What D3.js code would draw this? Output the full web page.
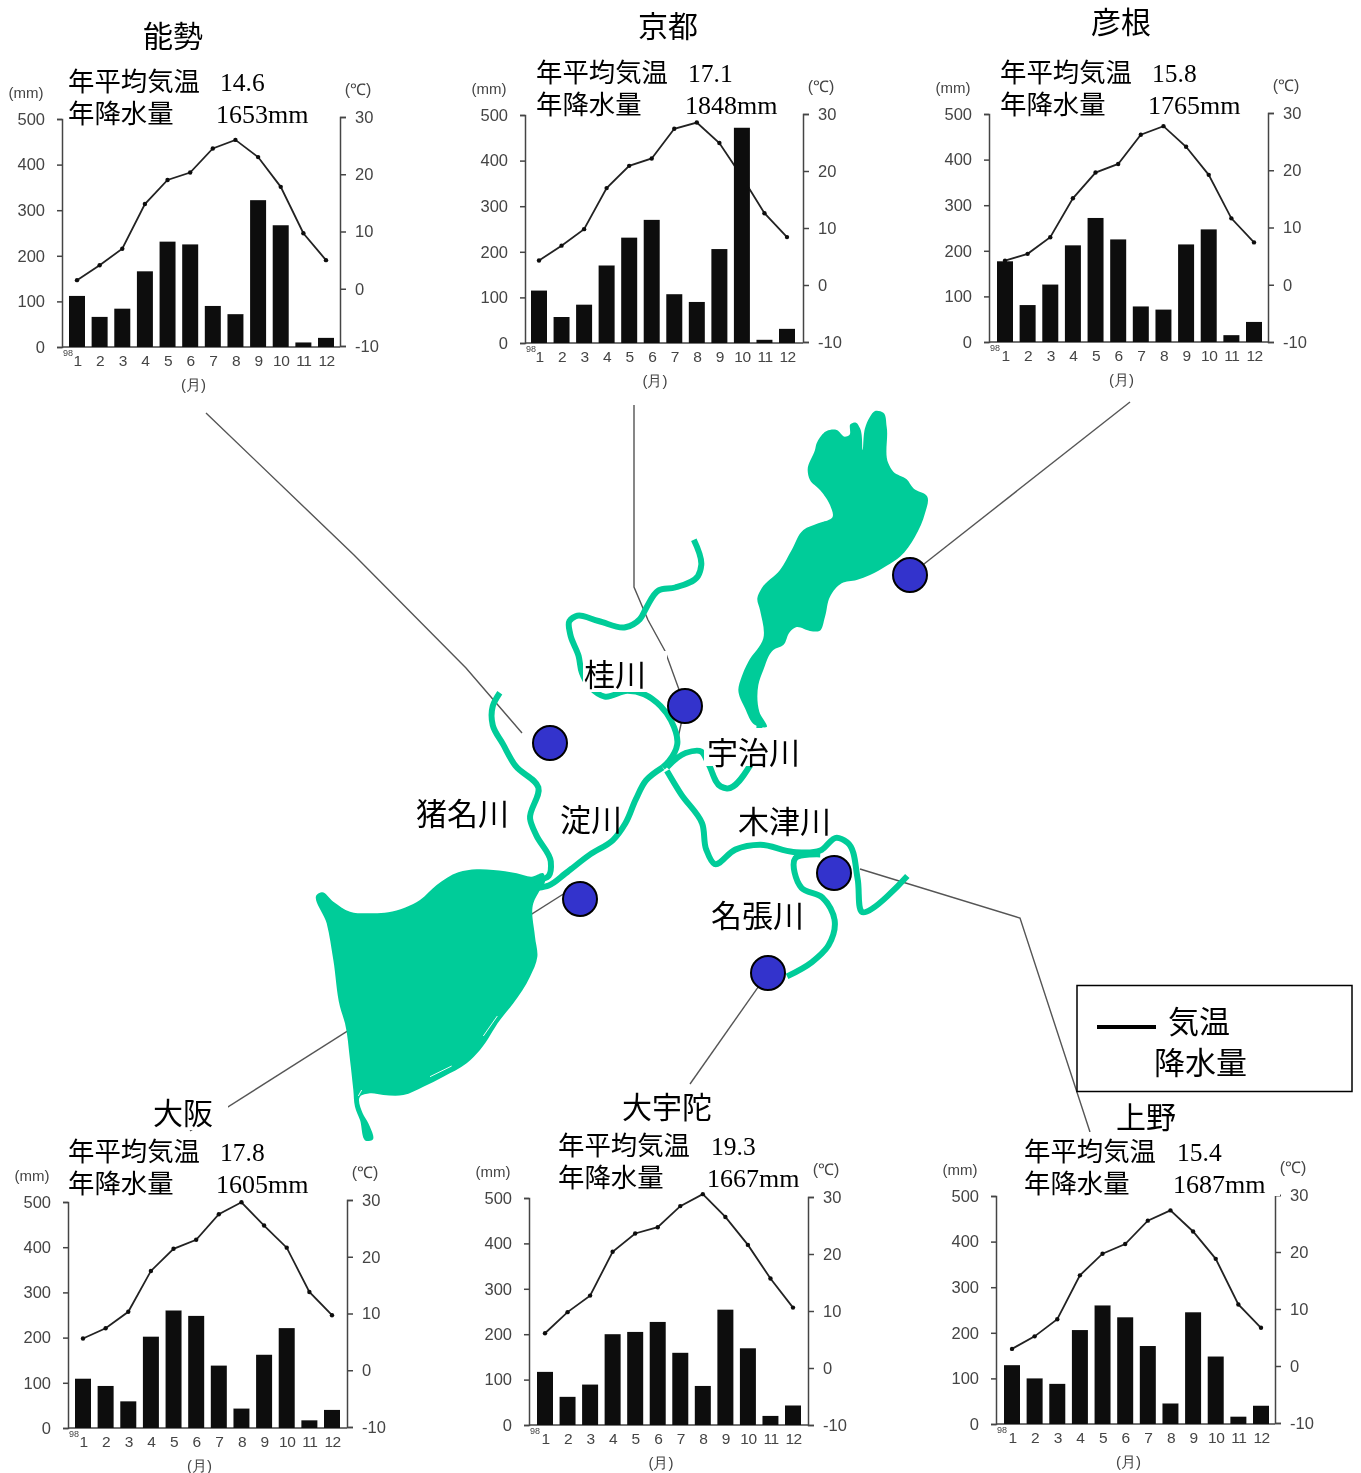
<!DOCTYPE html>
<html>
<head>
<meta charset="utf-8">
<script src="https://cdn.jsdelivr.net/npm/d3@7"></script>
<style>
  html, body { margin: 0; padding: 0; background: #fff; }
  svg { display: block; }
  .jp { font-family: "Noto Sans CJK JP", sans-serif; fill: #000; }
  .num { font-family: "Liberation Serif", serif; fill: #000; }
  .tick text, .small { font-family: "Liberation Sans", sans-serif; fill: #444; }
</style>
</head>
<body>
<svg id="chart" width="1361" height="1473"></svg>
<script>
var months = [1, 2, 3, 4, 5, 6, 7, 8, 9, 10, 11, 12]
var precipTicks = [0, 100, 200, 300, 400, 500]
var tempTicks = [-10, 0, 10, 20, 30]

var names = ['能勢', '京都', '彦根', '大阪', '大宇陀', '上野']
var meanTemps = ['14.6', '17.1', '15.8', '17.8', '19.3', '15.4']
var yearRain = ['1653', '1848', '1765', '1605', '1667', '1687']

var precipNose = [112, 66, 84, 166, 231, 225, 90, 72, 322, 267, 10, 20]
var precipKyoto = [115, 57, 84, 170, 231, 270, 107, 90, 206, 472, 7, 31]
var precipHikone = [177, 81, 126, 212, 272, 225, 78, 71, 214, 247, 15, 44]
var precipOsaka = [109, 93, 59, 202, 260, 248, 138, 43, 162, 221, 17, 40]
var precipUda = [117, 62, 89, 200, 205, 227, 159, 86, 254, 169, 20, 43]
var precipUeno = [129, 100, 88, 206, 260, 234, 171, 45, 245, 148, 16, 40]

var tempNose = [1.5, 4.1, 7, 14.8, 19, 20.3, 24.5, 26, 23, 17.8, 9.7, 5]
var tempKyoto = [4.3, 6.9, 9.8, 17, 20.9, 22.2, 27.4, 28.5, 24.9, 19, 12.6, 8.4]
var tempHikone = [4.2, 5.4, 8.3, 15.1, 19.6, 21.1, 26.2, 27.7, 24.1, 19.2, 11.6, 7.4]
var tempOsaka = [5.6, 7.4, 10.3, 17.5, 21.4, 23, 27.5, 29.6, 25.5, 21.6, 13.8, 9.7]
var tempUda = [6.1, 9.8, 12.7, 20.4, 23.6, 24.7, 28.4, 30.5, 26.5, 21.6, 15.7, 10.6]
var tempUeno = [3, 5.2, 8.2, 15.9, 19.7, 21.4, 25.5, 27.3, 23.6, 18.8, 10.8, 6.7]

var precips = [precipNose, precipKyoto, precipHikone, precipOsaka, precipUda, precipUeno]
var temps = [tempNose, tempKyoto, tempHikone, tempOsaka, tempUda, tempUeno]

// map outlines, each in the units of its own drawing grid
var riverKatsura = [[950,292],[968,345],[960,368],[905,392],[865,398],[835,435],[820,458],[785,475],[720,462],[665,452],[650,462],[652,490],[672,535],[680,570],[700,600],[735,620],[790,608],[830,615],[870,640],[895,670],[910,720],[890,755],[875,768]]
var riverYodo = [[875,768],[835,795],[810,835],[785,885],[755,920],[700,950],[640,990],[600,1015],[575,1020]]
var riverIna = [[482,612],[465,640],[465,680],[490,720],[520,765],[575,810],[555,875],[570,910],[605,965],[600,995],[565,1005]]
var riverUji = [[1110,670],[1085,765],[1030,812],[1015,808],[985,760],[968,735],[930,738],[885,768]]
var riverKizu = [[885,775],[920,825],[970,885],[980,940],[1000,970],[1050,940],[1110,930],[1190,945],[1255,942],[1295,915],[1320,925],[1345,1000],[1355,1070],[1465,995]]
var riverNabari = [[1255,950],[1195,958],[1210,1020],[1260,1040],[1290,1090],[1275,1140],[1235,1175],[1175,1205]]
var rivers = [riverKatsura, riverYodo, riverIna, riverUji, riverKizu, riverNabari]

var lakeBiwa = [[435,33],[460,38],[470,80],[475,190],[490,215],[530,238],[550,265],[592,290],[585,340],[555,410],[510,470],[470,497],[420,525],[380,540],[335,550],[300,590],[285,650],[268,693],[240,693],[198,682],[180,695],[160,735],[130,750],[100,810],[85,855],[88,935],[110,981],[75,975],[45,925],[25,870],[35,830],[55,785],[100,715],[90,630],[82,595],[95,565],[150,510],[185,450],[220,390],[265,370],[308,350],[300,315],[270,270],[240,240],[233,210],[255,150],[260,130],[290,93],[320,90],[345,110],[358,105],[362,72],[378,68],[390,85],[398,150],[405,85],[420,50]]
var osakaBay = [[22,103],[35,97],[70,125],[120,155],[180,160],[235,157],[330,120],[380,75],[445,37],[500,28],[550,30],[620,40],[665,50],[700,40],[705,65],[690,90],[670,130],[675,230],[682,290],[660,350],[610,430],[570,480],[510,570],[470,610],[400,650],[340,680],[280,705],[220,705],[180,700],[150,710],[158,760],[175,790],[187,840],[170,843],[150,780],[135,740],[130,690],[120,600],[105,490],[90,440],[70,300],[50,190]]
var baySlivers = [[[360,650],[425,618]],[[520,528],[562,468]],[[145,708],[155,690]]]

var leaders = [
  [[206,413],[354,555],[466,668],[522,733]],
  [[634,405],[634,587],[648,620],[665,651],[685,706],[678,738]],
  [[1130,402],[910,575]],
  [[190,1131],[565,893]],
  [[690,1084],[768,973]],
  [[1090,1132],[1020,918],[860,869]]
]
var sites = [[550,743],[685,706],[910,575],[580,899],[834,873],[768,973]]

var riverNames = ['桂川', '宇治川', '淀川', '猪名川', '木津川', '名張川']

// layout of the six panels
var panels = [
  { left: 62, right: 340, top: 119, base: 347, t30: 117, t10: 346, m1: 77, m12: 326, tx: 143, ty: 47, ix: 68, iy: 91, nx: 220, rx: 216, patch: [66, 64, 250, 62] },
  { left: 525, right: 803, top: 115, base: 343, t30: 114, t10: 342, m1: 539, m12: 787, tx: 638, ty: 37, ix: 536, iy: 82, nx: 688, rx: 685, patch: [534, 56, 252, 64] },
  { left: 989, right: 1268, top: 114, base: 342, t30: 113, t10: 342, m1: 1005, m12: 1254, tx: 1091, ty: 33, ix: 1000, iy: 82, nx: 1152, rx: 1148, patch: [998, 56, 252, 64] },
  { left: 68, right: 347, top: 1202, base: 1428, t30: 1200, t10: 1427, m1: 83, m12: 332, tx: 153, ty: 1124, ix: 68, iy: 1161, nx: 220, rx: 216, patch: [66, 1134, 250, 66] },
  { left: 529, right: 808, top: 1198, base: 1425, t30: 1197, t10: 1425, m1: 545, m12: 793, tx: 622, ty: 1118, ix: 558, iy: 1155, nx: 711, rx: 707, patch: [556, 1130, 250, 62] },
  { left: 996, right: 1275, top: 1196, base: 1424, t30: 1195, t10: 1423, m1: 1012, m12: 1261, tx: 1116, ty: 1128, ix: 1024, iy: 1161, nx: 1177, rx: 1173, patch: [1022, 1132, 258, 64] }
]

var svg = d3.select('#chart')

var defs = svg.append('defs')
defs.append('filter').attr('id', 'scan').append('feGaussianBlur').attr('stdDeviation', 0.6)

var gridX = d3.scaleLinear().domain([0, 1568]).range([300, 950])
var gridY = d3.scaleLinear().domain([0, 1568]).range([400, 1150])
var riverLine = d3.line()
  .x(function (d) { return gridX(d[0]) })
  .y(function (d) { return gridY(d[1]) })
  .curve(d3.curveCatmullRom.alpha(0.9))

// zoomed grids of the two water bodies
var biwaX = d3.scaleLinear().domain([0, 630]).range([730, 940])
var biwaY = d3.scaleLinear().domain([0, 990]).range([400, 730])
var bayX = d3.scaleLinear().domain([0, 750]).range([310, 560])
var bayY = d3.scaleLinear().domain([0, 870]).range([860, 1150])
var biwaLine = d3.line()
  .x(function (d) { return biwaX(d[0]) })
  .y(function (d) { return biwaY(d[1]) })
  .curve(d3.curveCatmullRomClosed.alpha(0.9))
var bayLine = d3.line()
  .x(function (d) { return bayX(d[0]) })
  .y(function (d) { return bayY(d[1]) })
  .curve(d3.curveCatmullRomClosed.alpha(0.9))
var sliverLine = d3.line()
  .x(function (d) { return bayX(d[0]) })
  .y(function (d) { return bayY(d[1]) })

var leaderLine = d3.line()
svg.append('g').attr('filter', 'url(#scan)')
  .selectAll('path').data(leaders).enter().append('path')
  .attr('d', leaderLine)
  .attr('fill', 'none')
  .attr('stroke', '#555')
  .attr('stroke-width', 1.4)

panels.forEach(function (p, i) {
  var x = d3.scalePoint().domain(months).range([p.m1, p.m12])
  var yP = d3.scaleLinear().domain([0, 500]).range([p.base, p.top])
  var yT = d3.scaleLinear().domain([-10, 30]).range([p.t10, p.t30])
  var g = svg.append('g').attr('filter', 'url(#scan)')

  g.append('g').attr('transform', 'translate(' + p.left + ',0)')
    .call(d3.axisLeft(yP).tickValues(precipTicks).tickSize(5).tickPadding(12))
  g.append('g').attr('transform', 'translate(' + p.right + ',0)')
    .call(d3.axisRight(yT).tickValues(tempTicks).tickSize(6).tickPadding(9).tickFormat(function (d) { return String(d) }))
  var axisB = g.append('g').attr('transform', 'translate(0,' + p.base + ')')
    .call(d3.axisBottom(x).tickSize(0).tickPadding(8))
  axisB.select('.domain').remove()
  g.selectAll('.tick text').attr('font-size', 16.5)
  axisB.selectAll('.tick text').attr('font-size', 15.5).attr('letter-spacing', -0.5)
  g.selectAll('.tick line, .domain').attr('stroke', '#444').attr('stroke-width', 1.5)

  g.append('line')
    .attr('x1', p.left).attr('x2', p.right)
    .attr('y1', p.base).attr('y2', p.base)
    .attr('stroke', '#444').attr('stroke-width', 1.5)

  var tempLine = d3.line()
    .x(function (d, j) { return x(months[j]) })
    .y(function (d) { return yT(d) })
  g.append('path').attr('d', tempLine(temps[i]))
    .attr('fill', 'none').attr('stroke', '#222').attr('stroke-width', 1.8)
  g.selectAll('circle').data(temps[i]).enter().append('circle')
    .attr('cx', function (d, j) { return x(months[j]) })
    .attr('cy', function (d) { return yT(d) })
    .attr('r', 2.2)
    .attr('fill', '#111')

  g.selectAll('rect').data(precips[i]).enter().append('rect')
    .attr('x', function (d, j) { return x(months[j]) - 8 })
    .attr('y', function (d) { return yP(d) })
    .attr('width', 16)
    .attr('height', function (d) { return p.base - yP(d) })
    .attr('fill', '#111')

  g.append('text').attr('class', 'small').attr('font-size', 15)
    .attr('x', p.left - 36).attr('y', p.top - 21).attr('text-anchor', 'middle').text('(mm)')
  g.append('text').attr('class', 'small').attr('font-size', 16)
    .attr('x', p.right + 18).attr('y', p.t30 - 22).attr('text-anchor', 'middle').text('(℃)')
  g.append('text').attr('class', 'small').attr('font-size', 15)
    .attr('x', (p.m1 + p.m12) / 2 - 8).attr('y', p.base + 43).attr('text-anchor', 'middle').text('(月)')
  g.append('text').attr('class', 'small').attr('font-size', 9)
    .attr('x', p.left + 6).attr('y', p.base + 9).attr('text-anchor', 'middle').text('98')

  // white label backing cuts off whatever runs under the text
  svg.append('rect')
    .attr('x', p.patch[0]).attr('y', p.patch[1])
    .attr('width', p.patch[2]).attr('height', p.patch[3])
    .attr('fill', '#fff')

  svg.append('text').attr('class', 'jp').attr('font-size', 30)
    .attr('x', p.tx).attr('y', p.ty).text(names[i])
  svg.append('text').attr('class', 'jp').attr('font-size', 26.4)
    .attr('x', p.ix).attr('y', p.iy).text('年平均気温')
  svg.append('text').attr('class', 'jp').attr('font-size', 26.4)
    .attr('x', p.ix).attr('y', p.iy + 32).text('年降水量')
  svg.append('text').attr('class', 'num').attr('font-size', 25.5)
    .attr('x', p.nx).attr('y', p.iy).text(meanTemps[i])
  svg.append('text').attr('class', 'num').attr('font-size', 26)
    .attr('x', p.rx).attr('y', p.iy + 32).text(yearRain[i] + 'mm')
})

// 大阪 title sits on a leader, so it needs a backing too
svg.append('rect').attr('x', 150).attr('y', 1094).attr('width', 78).attr('height', 36).attr('fill', '#fff').lower()
svg.select('g').lower()

var water = svg.append('g')
water.append('path').attr('d', biwaLine(lakeBiwa)).attr('fill', '#00cc99')
water.append('path').attr('d', bayLine(osakaBay)).attr('fill', '#00cc99')
water.selectAll('.river').data(rivers).enter().append('path')
  .attr('class', 'river')
  .attr('d', riverLine)
  .attr('fill', 'none')
  .attr('stroke', '#00cc99')
  .attr('stroke-width', 6)
  .attr('stroke-linejoin', 'round')
water.selectAll('.sliver').data(baySlivers).enter().append('path')
  .attr('class', 'sliver')
  .attr('d', sliverLine)
  .attr('fill', 'none')
  .attr('stroke', '#e8fbf5')
  .attr('stroke-width', 1)

// label positions, in the same order as riverNames
var labelPos = [[584,686,60,[583,651,84,41]],[707,764,91,[704,728,96,38]],[560,831,61,null],[416,825,91,null],[738,833,91,[736,807,93,29]],[711,927,92,null]]
riverNames.forEach(function (n, i) {
  var l = labelPos[i]
  if (l[3]) {
    svg.append('rect').attr('x', l[3][0]).attr('y', l[3][1]).attr('width', l[3][2]).attr('height', l[3][3]).attr('fill', '#fff')
  }
  svg.append('text').attr('class', 'jp').attr('font-size', 31)
    .attr('x', l[0]).attr('y', l[1]).text(n)
})

svg.append('g').selectAll('circle').data(sites).enter().append('circle')
  .attr('cx', function (d) { return d[0] })
  .attr('cy', function (d) { return d[1] })
  .attr('r', 17)
  .attr('fill', '#3333cc')
  .attr('stroke', '#000')
  .attr('stroke-width', 2)

// legend
var legend = svg.append('g')
legend.append('rect').attr('x', 1077).attr('y', 985.5).attr('width', 275).attr('height', 106)
  .attr('fill', '#fff').attr('stroke', '#000').attr('stroke-width', 1.5)
legend.append('line').attr('x1', 1097).attr('x2', 1156).attr('y1', 1027).attr('y2', 1027)
  .attr('stroke', '#000').attr('stroke-width', 4)
legend.append('text').attr('class', 'jp').attr('font-size', 31).attr('x', 1168).attr('y', 1033).text('気温')
legend.append('text').attr('class', 'jp').attr('font-size', 31).attr('x', 1154).attr('y', 1074).text('降水量')
</script>
</body>
</html>
